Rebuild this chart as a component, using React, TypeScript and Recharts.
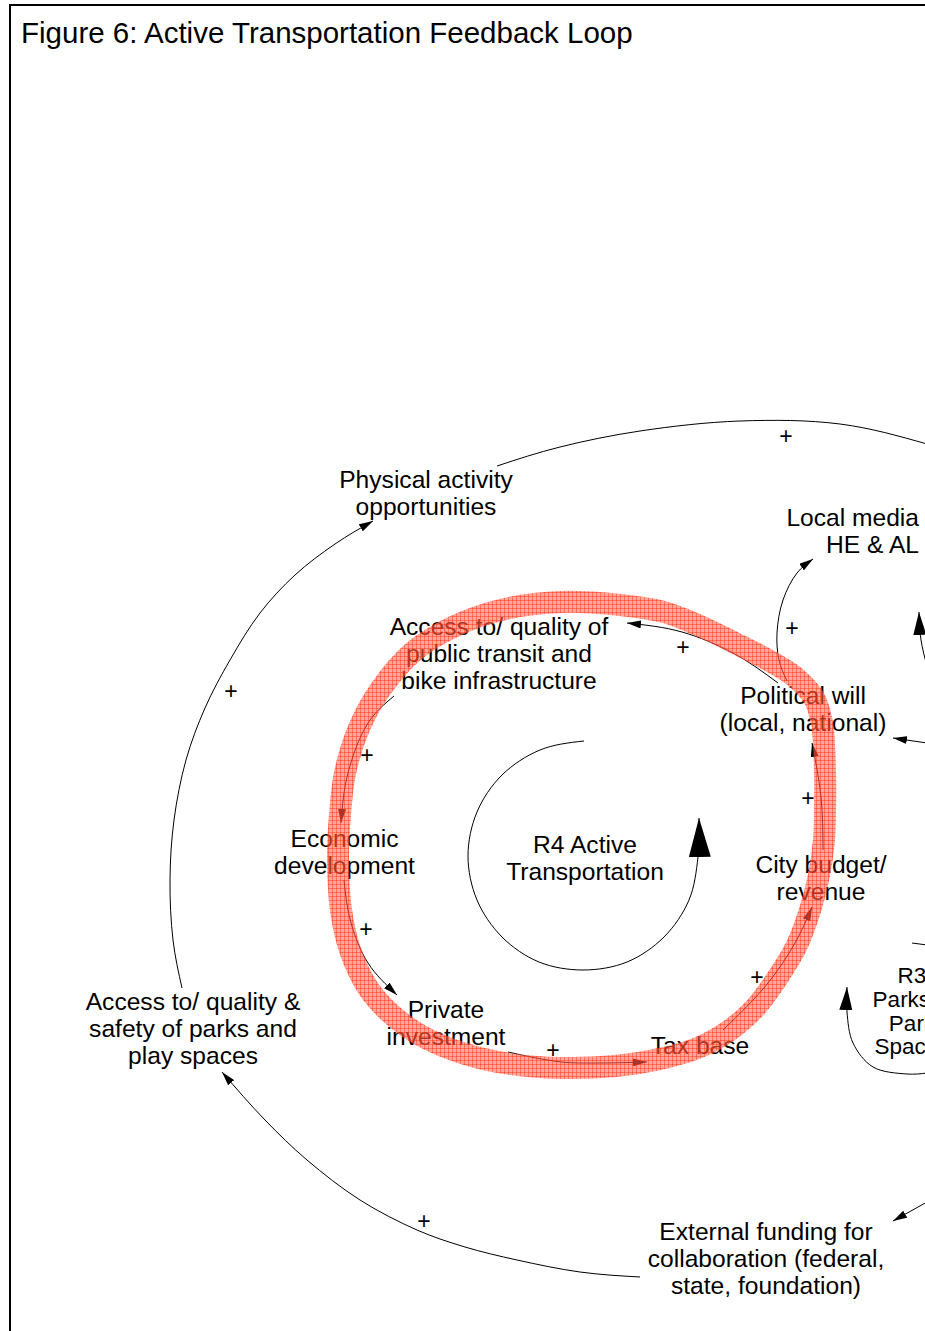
import React from 'react';
import { ComposedChart, Line, Scatter, XAxis, YAxis } from 'recharts';

const FONT = '"Liberation Sans", Arial, sans-serif';
const W = 925;
const H = 1331;

// Diagram variables (x = centre, y = first baseline, in diagram units)
const nodeLabels = [
  { x: 426, y: 488, lines: ['Physical activity', 'opportunities'] },
  { x: 499, y: 635, lines: ['Access to/ quality of', 'public transit and', 'bike infrastructure'] },
  { x: 803, y: 704, lines: ['Political will', '(local, national)'] },
  { x: 344.5, y: 847, lines: ['Economic', 'development'] },
  { x: 585, y: 853, lines: ['R4 Active', 'Transportation'] },
  { x: 821, y: 873, lines: ['City budget/', 'revenue'] },
  { x: 193, y: 1010, lines: ['Access to/ quality &', 'safety of parks and', 'play spaces'] },
  { x: 446, y: 1018, lines: ['Private', 'investment'] },
  { x: 700, y: 1054, lines: ['Tax base'] },
  { x: 766, y: 1240, lines: ['External funding for', 'collaboration (federal,', 'state, foundation)'] },
];
const edgeLabels = [{ x: 919, y: 526, lines: ['Local media', 'HE & AL'] }];
const loopLabels = [{ x: 912, y: 983, lines: ['R3', 'Parks &', 'Park', 'Spaces'] }];

const plusSigns = [
  { x: 786, y: 436 }, { x: 231, y: 691 }, { x: 792, y: 628 }, { x: 683, y: 647 },
  { x: 367, y: 755 }, { x: 808, y: 798 }, { x: 366, y: 929 }, { x: 757, y: 977 },
  { x: 553, y: 1050 }, { x: 424, y: 1221 },
];

// Causal links
const linkTopArc = [
  { x: 497, y: 466 }, { x: 560, y: 447 }, { x: 640, y: 431 }, { x: 740, y: 421 }, { x: 840, y: 424 }, { x: 927, y: 444 },
];
const linkParksToActivity = [
  { x: 182, y: 988 }, { x: 173, y: 940 }, { x: 170, y: 880 }, { x: 174, y: 820 }, { x: 186, y: 760 },
  { x: 205, y: 708 }, { x: 230, y: 660 }, { x: 260, y: 613 }, { x: 295, y: 575 }, { x: 335, y: 544 }, { x: 373, y: 521 },
];
const linkFundingToParks = [
  { x: 640, y: 1277 }, { x: 580, y: 1272 }, { x: 517, y: 1260 }, { x: 465, y: 1247 }, { x: 417, y: 1230 },
  { x: 360, y: 1200 }, { x: 307, y: 1160 }, { x: 265, y: 1120 }, { x: 222, y: 1072 },
];
const linkIntoFunding = [{ x: 927, y: 1202 }, { x: 893, y: 1221 }];
const linkIntoPolitical = [{ x: 927, y: 743 }, { x: 893, y: 738 }];
const linkLoopTopRight = [{ x: 927, y: 666 }, { x: 921, y: 640 }, { x: 919, y: 612 }];
const linkPoliticalToMedia = [
  { x: 787, y: 681 }, { x: 779, y: 660 }, { x: 777, y: 633 }, { x: 783, y: 600 }, { x: 797, y: 573 }, { x: 813, y: 559 },
];
const loopR3Lower = [
  { x: 927, y: 1073 }, { x: 907, y: 1074 }, { x: 873, y: 1067 }, { x: 853, y: 1043 }, { x: 847, y: 1012 }, { x: 847, y: 987 },
];
const loopR3Upper = [{ x: 912, y: 943 }, { x: 927, y: 945 }];
const loopR4 = [
  { x: 584, y: 741 }, { x: 540, y: 750 }, { x: 502, y: 775 }, { x: 477, y: 812 }, { x: 468, y: 856 },
  { x: 477, y: 900 }, { x: 502, y: 937 }, { x: 539, y: 962 }, { x: 583, y: 970 }, { x: 627, y: 962 },
  { x: 664, y: 937 }, { x: 689, y: 900 }, { x: 698, y: 857 }, { x: 699, y: 818 },
];

// R4 loop links
const r4PoliticalToAccess = [{ x: 778, y: 683 }, { x: 733, y: 653 }, { x: 682, y: 632 }, { x: 627, y: 623 }];
const r4AccessToEconomic = [{ x: 394, y: 696 }, { x: 368, y: 723 }, { x: 348, y: 773 }, { x: 341, y: 823 }];
const r4EconomicToPrivate = [{ x: 344, y: 880 }, { x: 351, y: 923 }, { x: 368, y: 963 }, { x: 397, y: 995 }];
const r4PrivateToTax = [{ x: 508, y: 1052 }, { x: 561, y: 1062 }, { x: 596, y: 1063 }, { x: 647, y: 1062 }];
const r4TaxToBudget = [{ x: 723, y: 1030 }, { x: 768, y: 983 }, { x: 795, y: 943 }, { x: 812, y: 907 }];
const r4BudgetToPolitical = [{ x: 823, y: 850 }, { x: 821, y: 797 }, { x: 812, y: 743 }];

// Highlighted loop outline
const highlightRing = [
  { x: 561, y: 602 }, { x: 620, y: 605 }, { x: 664, y: 612 }, { x: 700, y: 626 }, { x: 735, y: 643 },
  { x: 768, y: 660 }, { x: 795, y: 677 }, { x: 814, y: 698 }, { x: 822, y: 723 }, { x: 825, y: 773 },
  { x: 825, y: 810 }, { x: 824, y: 840 }, { x: 819, y: 875 }, { x: 811, y: 907 }, { x: 797, y: 945 },
  { x: 776, y: 980 }, { x: 755, y: 1008 }, { x: 730, y: 1030 }, { x: 700, y: 1047 }, { x: 664, y: 1058 },
  { x: 615, y: 1066 }, { x: 561, y: 1068 }, { x: 510, y: 1064 }, { x: 462, y: 1053 }, { x: 420, y: 1035 },
  { x: 390, y: 1013 }, { x: 368, y: 988 }, { x: 350, y: 950 }, { x: 341, y: 910 }, { x: 338, y: 857 },
  { x: 340, y: 815 }, { x: 345, y: 773 }, { x: 359, y: 728 }, { x: 380, y: 690 }, { x: 413, y: 652 },
  { x: 455, y: 626 }, { x: 505, y: 609 }, { x: 561, y: 602 },
];

const TITLE = 'Figure 6: Active Transportation Feedback Loop';

// Centripetal Catmull-Rom curve factory for Recharts' Curve (d3-style curve interface)
const makeCatmull = (closed: boolean) => (context: any) => {
  let pts: number[][] = [];
  return {
    areaStart() {},
    areaEnd() {},
    lineStart() { pts = []; },
    point(x: number, y: number) { pts.push([+x, +y]); },
    lineEnd() {
      let p = pts;
      if (closed && p.length > 2) {
        const a = p[0];
        const b = p[p.length - 1];
        if (Math.abs(a[0] - b[0]) < 0.01 && Math.abs(a[1] - b[1]) < 0.01) p = p.slice(0, -1);
      }
      const n = p.length;
      if (n === 0) return;
      context.moveTo(p[0][0], p[0][1]);
      if (n === 1) return;
      if (n === 2 && !closed) {
        context.lineTo(p[1][0], p[1][1]);
        return;
      }
      const get = (i: number) => (closed ? p[((i % n) + n) % n] : p[Math.max(0, Math.min(n - 1, i))]);
      const kd = (a: number[], b: number[]) => Math.sqrt(Math.hypot(b[0] - a[0], b[1] - a[1]));
      const tangent = (pa: number[], pb: number[], pc: number[], ta: number, tb: number, k: number) =>
        (pb[k] - pa[k]) / ta - (pc[k] - pa[k]) / (ta + tb) + (pc[k] - pb[k]) / tb;
      const segs = closed ? n : n - 1;
      for (let i = 0; i < segs; i++) {
        const p0 = get(i - 1), p1 = get(i), p2 = get(i + 1), p3 = get(i + 2);
        const t12 = kd(p1, p2);
        if (t12 < 1e-6) continue;
        const t01 = kd(p0, p1);
        const t23 = kd(p2, p3);
        const first = !closed && i === 0;
        const last = !closed && i === segs - 1;
        const m1 = [0, 0];
        const m2 = [0, 0];
        for (let k = 0; k < 2; k++) {
          const chord = (p2[k] - p1[k]) / t12;
          const a = first ? null : tangent(p0, p1, p2, t01, t12, k);
          const b = last ? null : tangent(p1, p2, p3, t12, t23, k);
          if (a === null && b === null) { m1[k] = chord; m2[k] = chord; }
          else if (a === null) { m2[k] = b as number; m1[k] = (3 * chord - (b as number)) / 2; }
          else if (b === null) { m1[k] = a; m2[k] = (3 * chord - a) / 2; }
          else { m1[k] = a; m2[k] = b; }
        }
        context.bezierCurveTo(
          p1[0] + (m1[0] * t12) / 3, p1[1] + (m1[1] * t12) / 3,
          p2[0] - (m2[0] * t12) / 3, p2[1] - (m2[1] * t12) / 3,
          p2[0], p2[1],
        );
      }
      if (closed) context.closePath();
    },
  };
};
const curveOpen = makeCatmull(false);
const curveClosed = makeCatmull(true);

const makeText = (anchor: string, size: number, lh: number) => (props: any) => {
  const { cx, cy, payload } = props;
  if (cx == null || cy == null) return <g />;
  return (
    <text x={cx} y={cy} textAnchor={anchor} fontFamily={FONT} fontSize={size} fill="#000" stroke="none">
      {payload.lines.map((l: string, i: number) => (
        <tspan key={i} x={cx} y={cy + i * lh}>{l}</tspan>
      ))}
    </text>
  );
};

const PlusShape = (props: any) => {
  const { cx, cy } = props;
  if (cx == null || cy == null) return <g />;
  return (
    <text x={cx} y={cy} textAnchor="middle" dominantBaseline="central" fontFamily={FONT} fontSize={23} fill="#000" stroke="none">+</text>
  );
};

const arrowLinks: { id: string; data: any[]; marker?: string }[] = [
  { id: 'topArc', data: linkTopArc },
  { id: 'parksToActivity', data: linkParksToActivity, marker: 'arrowSmall' },
  { id: 'fundingToParks', data: linkFundingToParks, marker: 'arrowSmall' },
  { id: 'intoFunding', data: linkIntoFunding, marker: 'arrowSmall' },
  { id: 'intoPolitical', data: linkIntoPolitical, marker: 'arrowSmall' },
  { id: 'loopTopRight', data: linkLoopTopRight, marker: 'arrowMid' },
  { id: 'politicalToMedia', data: linkPoliticalToMedia, marker: 'arrowSmall' },
  { id: 'r3Lower', data: loopR3Lower, marker: 'arrowMid' },
  { id: 'r3Upper', data: loopR3Upper },
  { id: 'r4', data: loopR4, marker: 'arrowBig' },
  { id: 'r4a', data: r4PoliticalToAccess, marker: 'arrowSmall' },
  { id: 'r4b', data: r4AccessToEconomic, marker: 'arrowSmall' },
  { id: 'r4c', data: r4EconomicToPrivate, marker: 'arrowSmall' },
  { id: 'r4d', data: r4PrivateToTax, marker: 'arrowSmall' },
  { id: 'r4e', data: r4TaxToBudget, marker: 'arrowSmall' },
  { id: 'r4f', data: r4BudgetToPolitical, marker: 'arrowSmall' },
];

export default function App() {
  return (
    <div style={{ position: 'absolute', left: 0, top: 0, width: W, height: H, overflow: 'hidden', background: '#fff' }}>
      <svg width={0} height={0} style={{ position: 'absolute' }}>
        <defs>
          <marker id="arrowSmall" markerUnits="userSpaceOnUse" viewBox="0 0 14 8" markerWidth={14} markerHeight={8} refX={14} refY={4} orient="auto">
            <path d="M0,0 L14,4 L0,8 z" fill="#000" />
          </marker>
          <marker id="arrowMid" markerUnits="userSpaceOnUse" viewBox="0 0 23 13" markerWidth={23} markerHeight={13} refX={23} refY={6.5} orient="auto">
            <path d="M0,0 L23,6.5 L0,13 z" fill="#000" />
          </marker>
          <marker id="arrowBig" markerUnits="userSpaceOnUse" viewBox="0 0 39 22" markerWidth={39} markerHeight={22} refX={39} refY={11} orient="auto">
            <path d="M0,0 L39,11 L0,22 z" fill="#000" />
          </marker>
          <pattern id="hatch" patternUnits="userSpaceOnUse" width={4} height={4}>
            <rect width={4} height={4} fill="#ff6a50" fillOpacity={0.58} />
            <path d="M0,0.5 H4 M0.5,0 V4" stroke="#ff2200" strokeWidth={0.7} strokeOpacity={0.6} />
          </pattern>
        </defs>
      </svg>
      <div style={{ position: 'absolute', left: 9, top: 4, width: 1000, height: 1400, borderLeft: '2px solid #000', borderTop: '2px solid #000' }} />
      <svg width={W} height={60} style={{ position: 'absolute', left: 0, top: 0 }}>
        <text x={21} y={43} fontFamily={FONT} fontSize={29.5} fill="#000">{TITLE}</text>
      </svg>
      <div style={{ position: 'absolute', left: 0, top: 0 }}>
        <ComposedChart width={W} height={H} margin={{ top: 0, right: 0, bottom: 0, left: 0 }}>
          <XAxis type="number" dataKey="x" domain={[0, W]} hide allowDataOverflow />
          <YAxis type="number" dataKey="y" domain={[0, H]} reversed hide allowDataOverflow />
          <Scatter name="nodes" data={nodeLabels} dataKey="y" fill="#000" shape={makeText('middle', 24.6, 26.8)} isAnimationActive={false} />
          <Scatter name="edge" data={edgeLabels} dataKey="y" fill="#000" shape={makeText('end', 24.6, 27.3)} isAnimationActive={false} />
          <Scatter name="loops" data={loopLabels} dataKey="y" fill="#000" shape={makeText('middle', 22.5, 23.8)} isAnimationActive={false} />
          <Scatter name="plus" data={plusSigns} dataKey="y" fill="#000" shape={PlusShape} isAnimationActive={false} />
          {arrowLinks.map((l) => (
            <Line
              key={l.id}
              name={l.id}
              data={l.data}
              dataKey="y"
              type={curveOpen as any}
              stroke="#000"
              strokeWidth={1}
              dot={false}
              activeDot={false}
              isAnimationActive={false}
              markerEnd={l.marker ? `url(#${l.marker})` : undefined}
            />
          ))}
          <Line
            name="highlight"
            data={highlightRing}
            dataKey="y"
            type={curveClosed as any}
            stroke="url(#hatch)"
            strokeWidth={22}
            strokeLinejoin="round"
            strokeLinecap="round"
            dot={false}
            activeDot={false}
            isAnimationActive={false}
            zIndex={1000}
          />
        </ComposedChart>
      </div>
    </div>
  );
}
